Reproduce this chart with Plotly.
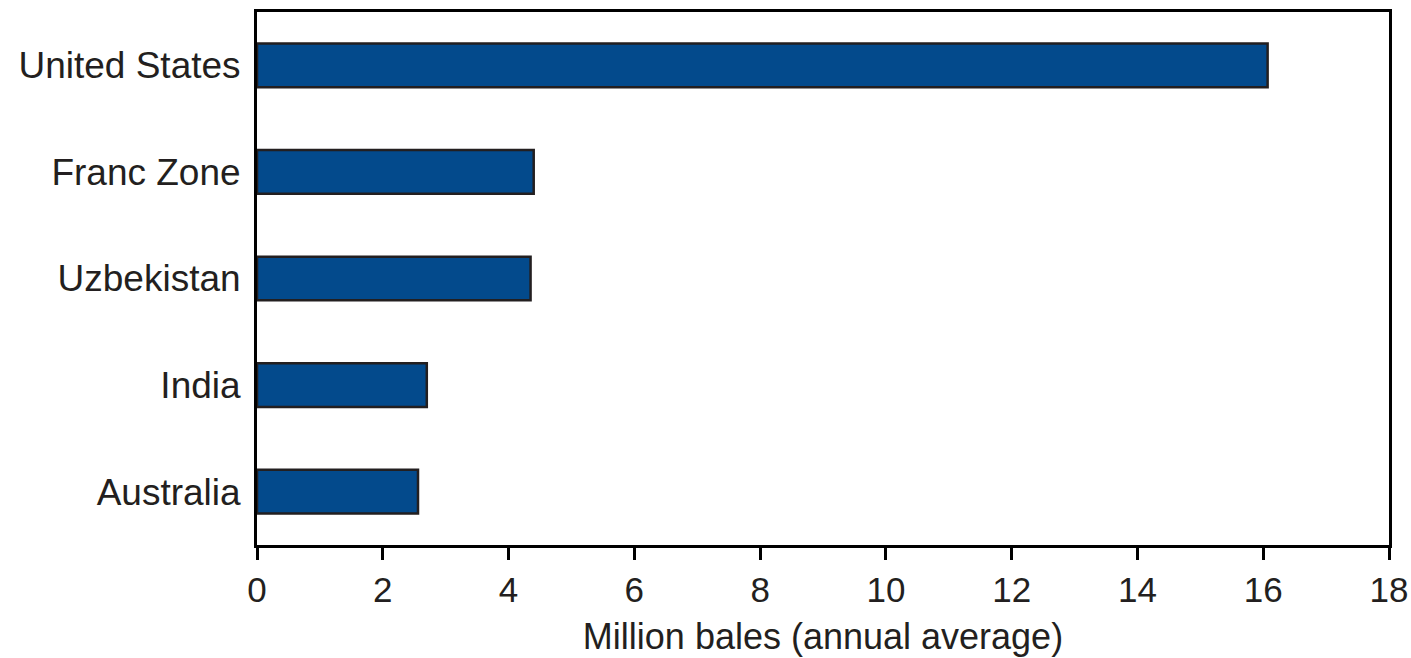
import plotly.graph_objects as go

countries = ["United States", "Franc Zone", "Uzbekistan", "India", "Australia"]
exports = [16.07, 4.4, 4.35, 2.7, 2.56]
x_ticks = [0, 2, 4, 6, 8, 10, 12, 14, 16, 18]

fig = go.Figure(
    go.Bar(
        x=exports,
        y=countries,
        orientation="h",
        width=0.41,
        marker={"color": "#034a8c", "line": {"color": "#231f20", "width": 2.5}},
    )
)

fig.update_layout(
    width=1411,
    height=658,
    plot_bgcolor="white",
    paper_bgcolor="white",
    margin={"l": 257, "r": 22, "t": 12, "b": 113},
    font={"family": "Liberation Sans, Arial, sans-serif", "size": 37, "color": "#231f20"},
    showlegend=False,
    xaxis={
        "range": [0, 18],
        "tickvals": x_ticks,
        "ticks": "outside",
        "ticklen": 12,
        "tickwidth": 3,
        "tickcolor": "black",
        "tickfont": {"size": 35},
        "ticklabeloverflow": "allow",
        "automargin": False,
        "showline": True,
        "linecolor": "black",
        "linewidth": 3,
        "mirror": True,
        "showgrid": False,
        "zeroline": False,
        "title": {"text": "Million bales (annual average)", "font": {"size": 36}, "standoff": 16},
    },
    yaxis={
        "categoryorder": "array",
        "categoryarray": countries[::-1],
        "tickfont": {"size": 37},
        "automargin": False,
        "showline": True,
        "linecolor": "black",
        "linewidth": 3,
        "mirror": True,
        "showgrid": False,
        "ticks": "",
        "ticklabelstandoff": 6,
    },
)

# drop the default 8px body margin so the 1411x658 figure fills the window exactly
fig.write_html(
    "out.html",
    config={"displayModeBar": False},
    post_script="document.body.style.margin = '0';",
)
